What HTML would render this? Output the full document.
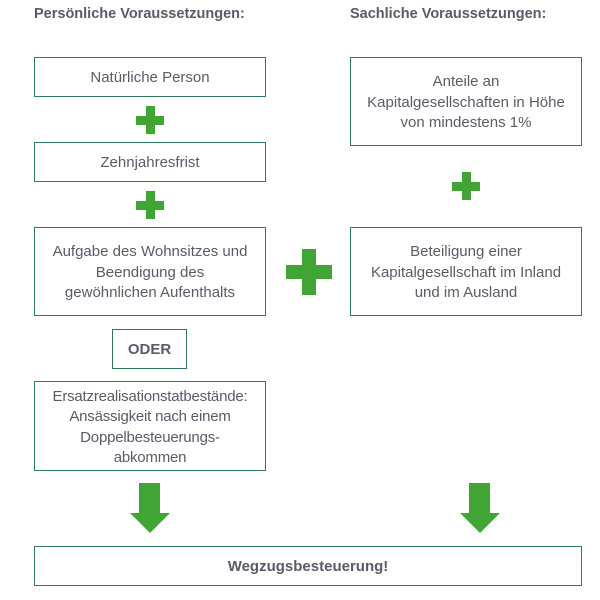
<!DOCTYPE html>
<html><head><meta charset="utf-8"><style>
body{margin:0;width:600px;height:600px;background:#fff;position:relative;font-family:"Liberation Sans",sans-serif;color:#5a5a68;overflow:hidden}
.b{position:absolute;border:1.5px solid #2f7d56;box-sizing:border-box;display:flex;align-items:center;justify-content:center;text-align:center;font-size:15px;line-height:20.5px;padding-top:3px}
.h{position:absolute;font-weight:bold;font-size:14.5px;top:6px}
.p{position:absolute;background:#41a535}
</style></head><body>
<div class="h" style="left:34px">Persönliche Voraussetzungen:</div>
<div class="h" style="left:350px">Sachliche Voraussetzungen:</div>
<div class="b" style="left:34px;top:57px;width:232px;height:40px">Natürliche Person</div>
<div class="b" style="left:34px;top:142px;width:232px;height:40px">Zehnjahresfrist</div>
<div class="b" style="left:34px;top:227px;width:232px;height:89px">Aufgabe des Wohnsitzes und<br>Beendigung des<br>gewöhnlichen Aufenthalts</div>
<div class="b" style="left:112px;top:329px;width:75px;height:40px;font-weight:bold">ODER</div>
<div class="b" style="left:34px;top:381px;width:232px;height:90px;letter-spacing:-0.2px">Ersatzrealisationstatbestände:<br>Ansässigkeit nach einem<br>Doppelbesteuerungs-<br>abkommen</div>
<div class="b" style="left:350px;top:57px;width:232px;height:89px">Anteile an<br>Kapitalgesellschaften in Höhe<br>von mindestens 1%</div>
<div class="b" style="left:350px;top:227px;width:232px;height:89px">Beteiligung einer<br>Kapitalgesellschaft im Inland<br>und im Ausland</div>
<div class="b" style="left:34px;top:546px;width:548px;height:40px;font-weight:bold">Wegzugsbesteuerung!</div>
<div class="p" style="left:136px;top:116px;width:28px;height:9px"></div>
<div class="p" style="left:146px;top:106px;width:9px;height:28px"></div>
<div class="p" style="left:136px;top:201px;width:28px;height:9px"></div>
<div class="p" style="left:146px;top:191px;width:9px;height:28px"></div>
<div class="p" style="left:452px;top:182px;width:28px;height:9px"></div>
<div class="p" style="left:462px;top:172px;width:9px;height:28px"></div>
<div class="p" style="left:286px;top:265px;width:46px;height:14px"></div>
<div class="p" style="left:302px;top:249px;width:14px;height:46px"></div>
<svg style="position:absolute;left:0;top:0" width="600" height="600">
<polygon points="139,483 160,483 160,513 170,513 150,533 130,513 139,513" fill="#41a535"/>
<polygon points="469,483 490,483 490,513 500,513 480,533 460,513 469,513" fill="#41a535"/>
</svg>
</body></html>
